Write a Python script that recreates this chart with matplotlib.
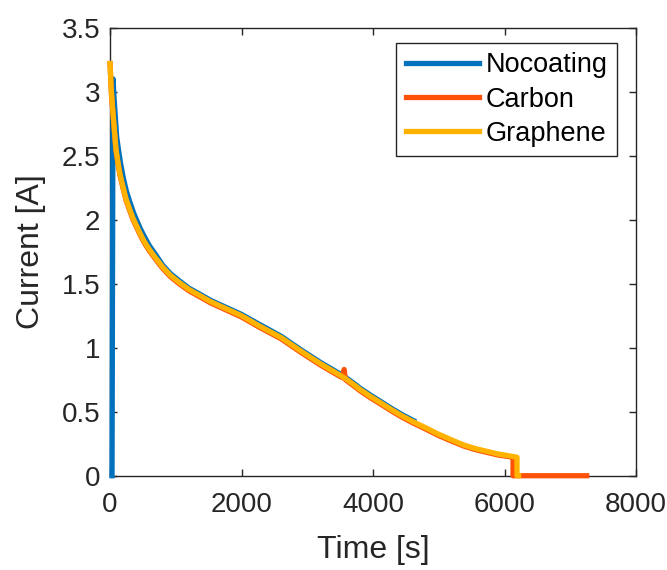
import matplotlib
matplotlib.use("Agg")
import matplotlib.pyplot as plt

# discharge current traces (time in s, current in A)
t_nocoating = [30, 45, 60, 100, 130, 160, 200, 250, 300, 360, 460, 530, 600, 690, 800, 920,
               1060, 1200, 1360, 1530, 1700, 1850, 2000, 2280, 2600, 2900, 3200, 3350, 3500,
               3577, 3700, 3800, 3960, 4100, 4300, 4450, 4617]
i_nocoating = [0, 3.10, 2.96, 2.65, 2.54, 2.44, 2.33, 2.22, 2.14, 2.05, 1.93, 1.86, 1.795, 1.73,
               1.645, 1.578, 1.52, 1.465, 1.42, 1.37, 1.33, 1.295, 1.26, 1.18, 1.09, 0.985, 0.885,
               0.84, 0.795, 0.77, 0.725, 0.685, 0.63, 0.585, 0.52, 0.475, 0.43]

t_carbon = [0, 20, 50, 90, 120, 150, 200, 244, 300, 350, 450, 520, 594, 680, 800, 920, 1052,
            1200, 1357, 1530, 1700, 1850, 2000, 2271, 2600, 2900, 3200, 3350, 3500, 3540, 3560,
            3580, 3700, 3800, 3958, 4100, 4300, 4450, 4617, 4800, 4973, 5150, 5379, 5550, 5735,
            5900, 6088, 6130, 6130, 7250]
i_carbon = [3.22, 2.99, 2.79, 2.54, 2.44, 2.35, 2.24, 2.15, 2.07, 2.00, 1.89, 1.82, 1.76, 1.70,
            1.62, 1.555, 1.50, 1.445, 1.40, 1.35, 1.31, 1.275, 1.24, 1.16, 1.07, 0.965, 0.865,
            0.82, 0.775, 0.765, 0.83, 0.75, 0.705, 0.665, 0.61, 0.565, 0.50, 0.455, 0.41, 0.365,
            0.32, 0.28, 0.232, 0.205, 0.182, 0.162, 0.148, 0.146, 0, 0]

t_graphene = [0, 20, 50, 90, 120, 150, 200, 244, 300, 350, 450, 520, 594, 680, 800, 920, 1052,
              1200, 1357, 1530, 1700, 1850, 2000, 2271, 2600, 2900, 3200, 3350, 3500, 3577, 3700,
              3800, 3958, 4100, 4300, 4450, 4617, 4800, 4973, 5150, 5379, 5550, 5735, 5900,
              6088, 6190, 6190, 6215]
i_graphene = [3.22, 3.00, 2.80, 2.55, 2.45, 2.36, 2.25, 2.16, 2.08, 2.01, 1.90, 1.83, 1.77, 1.71,
              1.63, 1.565, 1.51, 1.455, 1.41, 1.36, 1.32, 1.285, 1.25, 1.17, 1.08, 0.975, 0.875,
              0.83, 0.785, 0.76, 0.715, 0.675, 0.62, 0.575, 0.51, 0.465, 0.42, 0.375, 0.33, 0.29,
              0.24, 0.213, 0.19, 0.17, 0.154, 0.144, 0, 0]

x_ticks = [0, 2000, 4000, 6000, 8000]
y_ticks = [0, 0.5, 1, 1.5, 2, 2.5, 3, 3.5]
y_ticklabels = ["0", "0.5", "1", "1.5", "2", "2.5", "3", "3.5"]

plt.rcParams['font.family'] = ['Liberation Sans', 'DejaVu Sans']
grey = '#262626'

fig = plt.figure(figsize=(6.67, 5.7), dpi=100)
ax = fig.add_axes([0.165, 0.1654, 0.7885, 0.786])

# lines sit above the spines so the zero segments stay fully visible
ax.plot(t_nocoating, i_nocoating, color='#0072BD', lw=3.8, label='Nocoating', clip_on=False, zorder=3)
ax.plot(t_carbon, i_carbon, color='#FF5208', lw=3.8, label='Carbon', clip_on=False, zorder=3)
ax.plot(t_graphene, i_graphene, color='#FFB300', lw=3.8, label='Graphene', clip_on=False, zorder=3)

ax.set_xlim(0, 8000)
ax.set_ylim(0, 3.5)
ax.set_xticks(x_ticks)
ax.set_yticks(y_ticks)
ax.set_yticklabels(y_ticklabels)
ax.tick_params(direction='in', top=True, right=True, length=5, width=1,
               labelsize=20, colors=grey)
ax.tick_params(axis='x', pad=12)
ax.tick_params(axis='y', pad=7)
for s in ax.spines.values():
    s.set_color(grey)
    s.set_linewidth(1)

ax.set_xlabel('Time [s]', fontsize=23, color=grey)
ax.set_ylabel('Current [A]', fontsize=23, color=grey)
ax.xaxis.set_label_coords(0.5, -0.133)
ax.yaxis.set_label_coords(-0.121, 0.5)

leg = ax.legend(loc='upper right', bbox_to_anchor=(0.964, 0.966), borderaxespad=0,
                fontsize=19.5, handlelength=2.7, handletextpad=0.25, labelspacing=0.3,
                fancybox=False, framealpha=1, edgecolor=grey, borderpad=0.35)
leg.get_frame().set_linewidth(1)

fig.savefig('out.png', dpi=100)
